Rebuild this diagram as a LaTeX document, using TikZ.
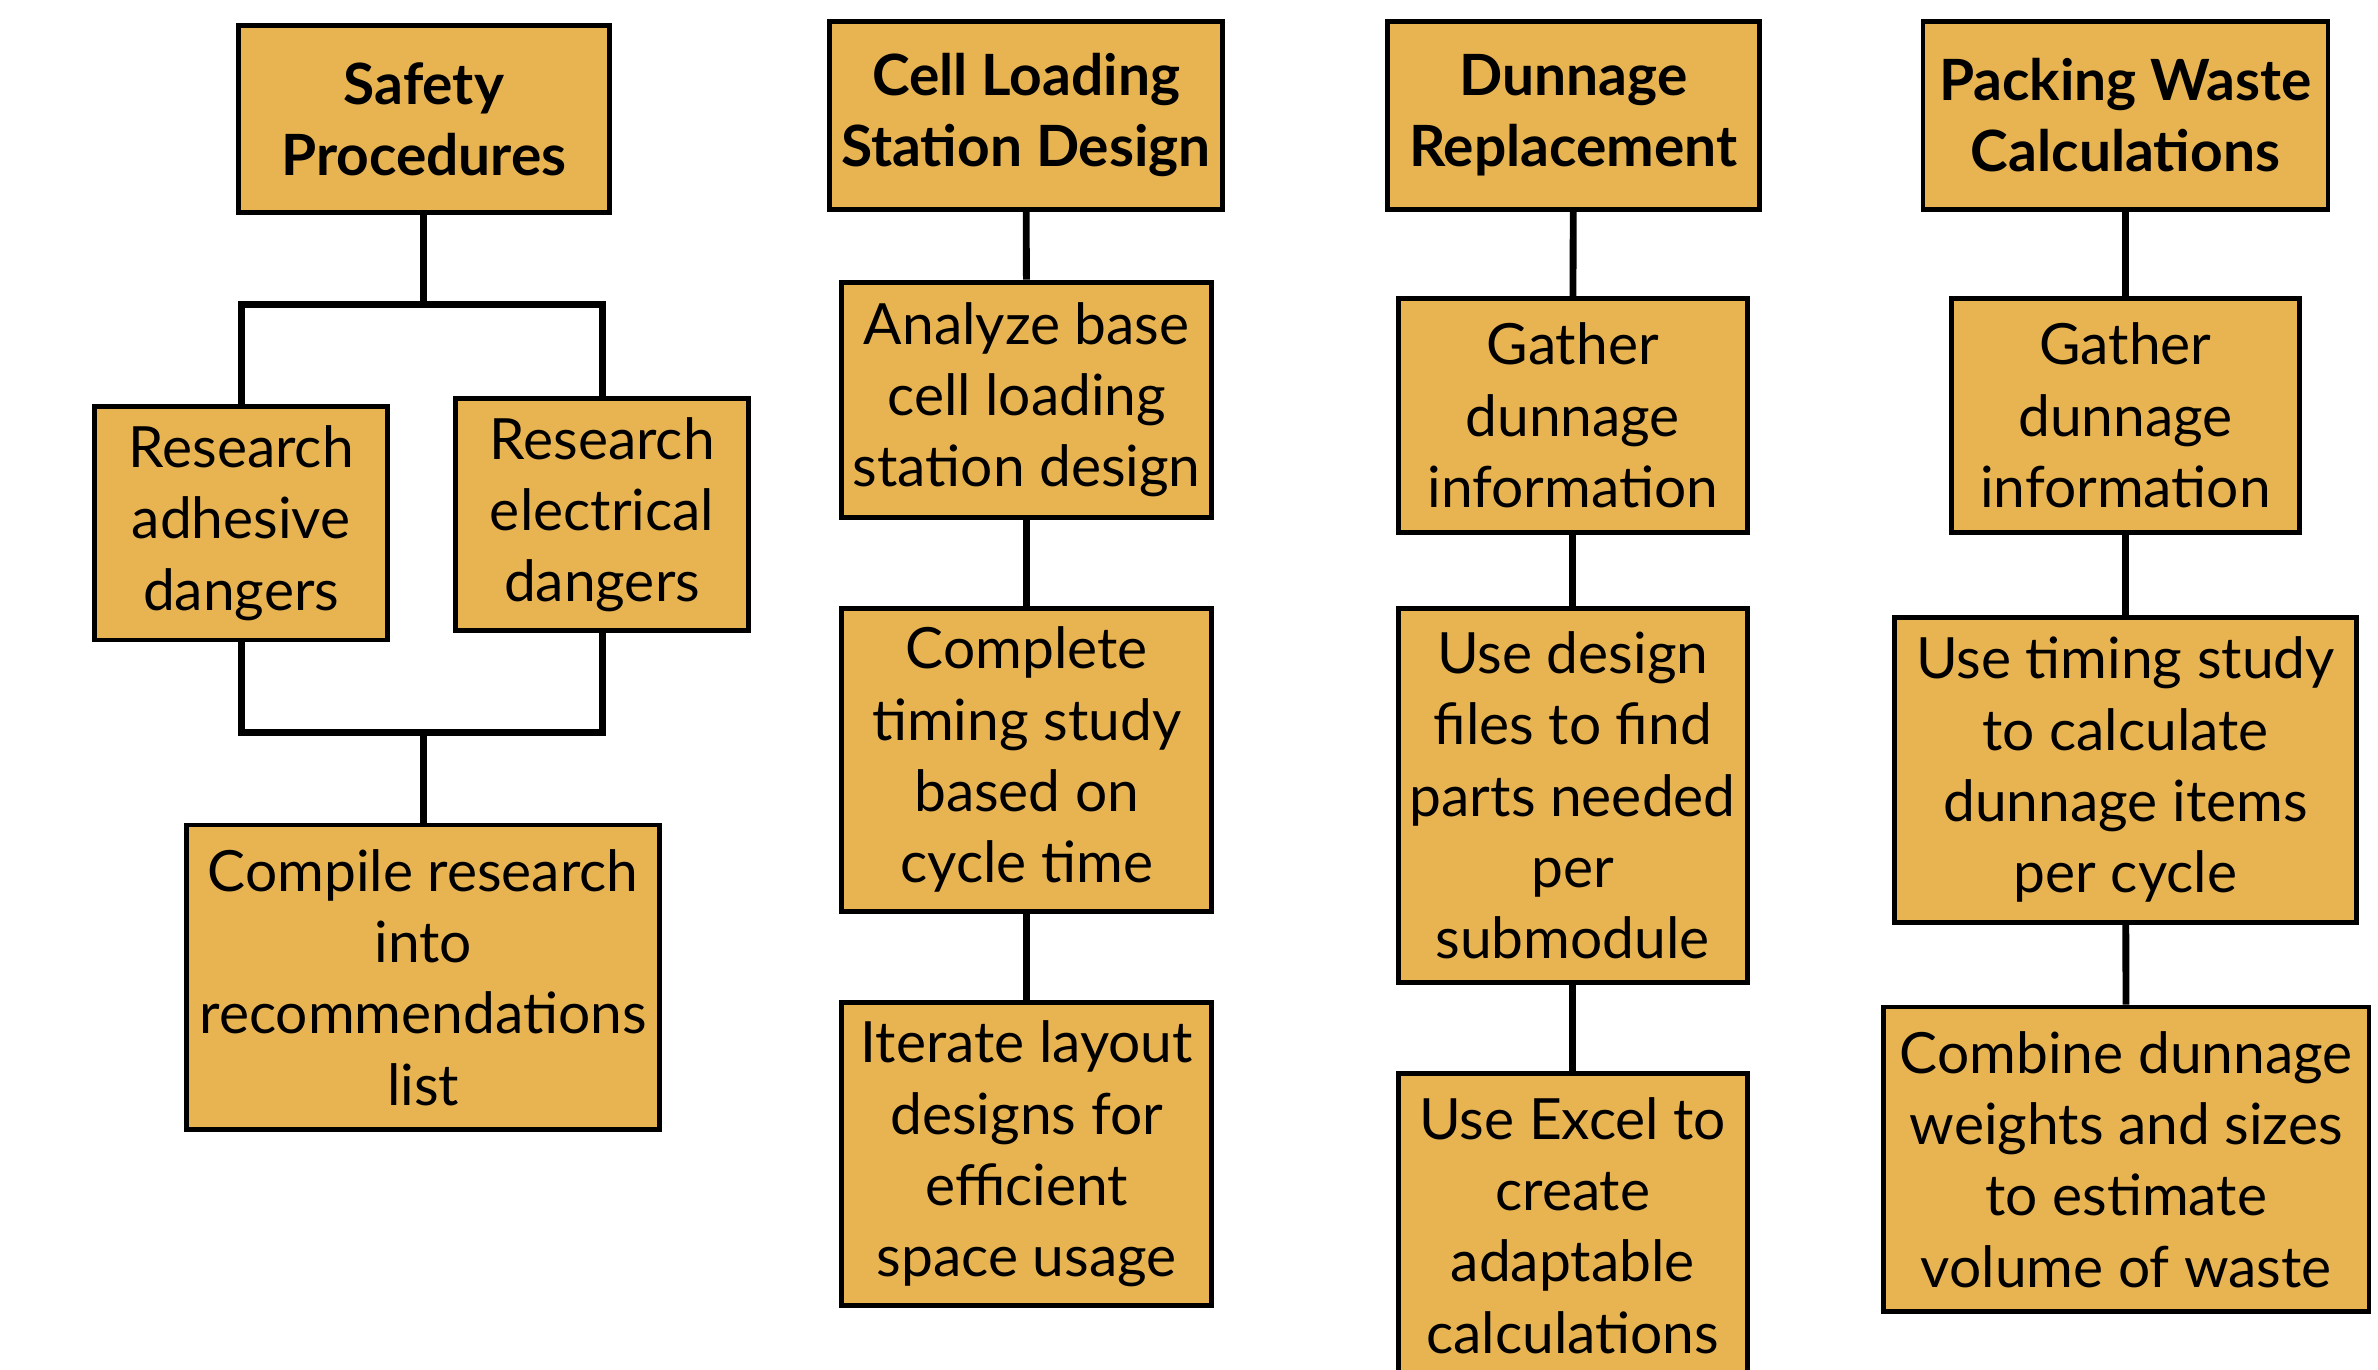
\documentclass[tikz,border=0pt]{standalone}
\usepackage{fontspec}
\setmainfont{Lato}
\definecolor{boxfill}{HTML}{E8B452}
\tikzset{
  box/.style={draw=black, fill=boxfill, line width=3.2pt, inner sep=0pt,
    align=center, font=\fontsize{37.5}{47}\selectfont},
  head/.style={box, font=\fontsize{37.5}{47}\selectfont\bfseries},
  conn/.style={draw=black, line width=4.5pt},
}
\begin{document}
\begin{tikzpicture}[x=1pt, y=-1pt]
\useasboundingbox (0,0) rectangle (1568,903);
\clip (0,0) rectangle (1568,903);

% Safety procedures branch
\node[head, minimum width=245, minimum height=123] (safety) at (279.5,78.5) {Safety\\Procedures};
\node[box, minimum width=193, minimum height=154] (adh) at (159,345) {Research\\adhesive\\dangers};
\node[box, minimum width=193, minimum height=153] (elec) at (397,339.5) {Research\\electrical\\dangers};
\node[box, minimum width=312, minimum height=201] (compile) at (279,644.5) {Compile research\\into\\recommendations\\list};
\coordinate (jtop) at (279.5,201);
\coordinate (jbot) at (279,483);
\draw[conn] (safety.south) -- (jtop);
\draw[conn] (adh.north) |- (jtop) -| (elec.north);
\draw[conn] (adh.south) |- (jbot) -| (elec.south);
\draw[conn] (jbot) -- (compile.north);

% Cell loading station design branch
\node[head, minimum width=259, minimum height=124] (cell) at (676.5,76) {Cell Loading\\Station Design};
\node[box, minimum width=244, minimum height=155] (analyze) at (677,263.5) {Analyze base\\cell loading\\station design};
\node[box, minimum width=244, minimum height=200] (complete) at (677,501) {Complete\\timing study\\based on\\cycle time};
\node[box, minimum width=244, minimum height=200] (iterate) at (677,761) {Iterate layout\\designs for\\efficient\\space usage};
\draw[conn] (cell) -- (analyze);
\draw[conn] (analyze) -- (complete);
\draw[conn] (complete) -- (iterate);

% Dunnage replacement branch
\node[head, minimum width=245, minimum height=124] (dunnage) at (1037.5,76) {Dunnage\\Replacement};
\node[box, minimum width=230, minimum height=154] (gatherA) at (1037,274) {Gather\\dunnage\\information};
\node[box, minimum width=230, minimum height=247] (design) at (1037,524.5) {Use design\\files to find\\parts needed\\per\\submodule};
\node[box, minimum width=230, minimum height=200] (excel) at (1037,808) {Use Excel to\\create\\adaptable\\calculations};
\draw[conn] (dunnage) -- (gatherA);
\draw[conn] (gatherA) -- (design);
\draw[conn] (design) -- (excel);

% Packing waste calculations branch
\node[head, minimum width=267, minimum height=124] (packing) at (1401.5,76) {Packing Waste\\Calculations};
\node[box, minimum width=229, minimum height=154] (gatherB) at (1401.5,274) {Gather\\dunnage\\information};
\node[box, minimum width=305, minimum height=201] (timing) at (1401.5,507.5) {Use timing study\\to calculate\\dunnage items\\per cycle};
\node[box, minimum width=320, minimum height=201] (combine) at (1402,764.5) {Combine dunnage\\weights and sizes\\to estimate\\volume of waste};
\draw[conn] (packing) -- (gatherB);
\draw[conn] (gatherB) -- (timing);
\draw[conn] (timing) -- (combine);
\end{tikzpicture}
\end{document}
